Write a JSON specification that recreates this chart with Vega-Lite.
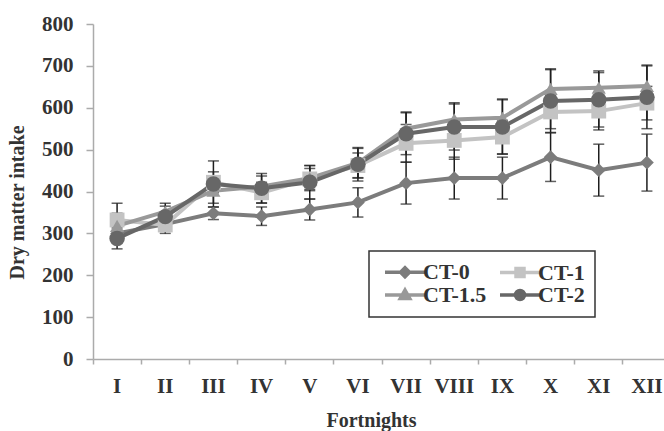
{
  "$schema": "https://vega.github.io/schema/vega-lite/v6.json",
  "autosize": "none",
  "padding": {"left": 93, "top": 24, "right": 0, "bottom": 72},
  "width": 578,
  "height": 335,
  "background": "white",
  "config": {
    "view": {"stroke": null},
    "font": "Liberation Serif",
    "axis": {
      "labelFont": "Liberation Serif", "labelFontWeight": "bold", "labelFontSize": 21, "labelColor": "#333333",
      "titleFont": "Liberation Serif", "titleFontWeight": "bold", "titleFontSize": 20, "titleColor": "#333333",
      "domainColor": "#ababab", "tickColor": "#ababab", "domainWidth": 1.5, "tickWidth": 1.5, "grid": false
    }
  },
  "data": {"values": [
    {"f":"I","s":"CT-0","v":300,"e":20},{"f":"II","s":"CT-0","v":322,"e":15},{"f":"III","s":"CT-0","v":348,"e":15},{"f":"IV","s":"CT-0","v":341,"e":22},{"f":"V","s":"CT-0","v":357,"e":25},{"f":"VI","s":"CT-0","v":374,"e":35},{"f":"VII","s":"CT-0","v":420,"e":50},{"f":"VIII","s":"CT-0","v":432,"e":50},{"f":"IX","s":"CT-0","v":432,"e":50},{"f":"X","s":"CT-0","v":482,"e":58},{"f":"XI","s":"CT-0","v":451,"e":62},{"f":"XII","s":"CT-0","v":469,"e":68},
    {"f":"I","s":"CT-1","v":332,"e":40},{"f":"II","s":"CT-1","v":320,"e":20},{"f":"III","s":"CT-1","v":422,"e":25},{"f":"IV","s":"CT-1","v":397,"e":25},{"f":"V","s":"CT-1","v":430,"e":25},{"f":"VI","s":"CT-1","v":462,"e":30},{"f":"VII","s":"CT-1","v":515,"e":45},{"f":"VIII","s":"CT-1","v":522,"e":45},{"f":"IX","s":"CT-1","v":530,"e":40},{"f":"X","s":"CT-1","v":590,"e":40},{"f":"XI","s":"CT-1","v":592,"e":45},{"f":"XII","s":"CT-1","v":611,"e":40},
    {"f":"I","s":"CT-1.5","v":318,"e":30},{"f":"II","s":"CT-1.5","v":352,"e":20},{"f":"III","s":"CT-1.5","v":402,"e":30},{"f":"IV","s":"CT-1.5","v":412,"e":25},{"f":"V","s":"CT-1.5","v":432,"e":30},{"f":"VI","s":"CT-1.5","v":468,"e":35},{"f":"VII","s":"CT-1.5","v":550,"e":40},{"f":"VIII","s":"CT-1.5","v":572,"e":40},{"f":"IX","s":"CT-1.5","v":576,"e":45},{"f":"X","s":"CT-1.5","v":645,"e":48},{"f":"XI","s":"CT-1.5","v":648,"e":40},{"f":"XII","s":"CT-1.5","v":652,"e":50},
    {"f":"I","s":"CT-2","v":288,"e":25},{"f":"II","s":"CT-2","v":340,"e":25},{"f":"III","s":"CT-2","v":418,"e":55},{"f":"IV","s":"CT-2","v":408,"e":35},{"f":"V","s":"CT-2","v":422,"e":40},{"f":"VI","s":"CT-2","v":465,"e":40},{"f":"VII","s":"CT-2","v":538,"e":50},{"f":"VIII","s":"CT-2","v":554,"e":55},{"f":"IX","s":"CT-2","v":554,"e":65},{"f":"X","s":"CT-2","v":616,"e":75},{"f":"XI","s":"CT-2","v":619,"e":65},{"f":"XII","s":"CT-2","v":625,"e":75}
  ]},
  "encoding": {
    "x": {
      "field": "f", "type": "ordinal",
      "sort": ["I","II","III","IV","V","VI","VII","VIII","IX","X","XI","XII"],
      "scale": {"type": "band", "paddingInner": 0, "paddingOuter": 0},
      "axis": {"title": "Fortnights", "labelAngle": 0, "bandPosition": 0, "tickSize": 5, "labelPadding": 11, "titlePadding": 14, "titleX": 278}
    },
    "y": {"field": "v", "type": "quantitative", "scale": {"domain": [0, 800]}, "title": "Dry matter intake",
          "axis": {"values": [0,100,200,300,400,500,600,700,800], "tickSize": 7, "labelPadding": 13, "titlePadding": 12, "titleX": -66, "titleY": 178}}
  },
  "layer": [
    {
      "mark": {"type": "errorbar", "ticks": true, "size": 11, "thickness": 1.5, "color": "#1e1e1e"},
      "encoding": {
        "yError": {"field": "e"},
        "detail": {"field": "s"}
      }
    },
    {
      "mark": {"type": "line", "strokeWidth": 4},
      "encoding": {
        "color": {
          "field": "s", "type": "nominal",
          "scale": {"domain": ["CT-0","CT-1","CT-1.5","CT-2"], "range": ["#7c7c7c","#c3c3c3","#999999","#676767"]},
          "legend": {
            "title": null, "orient": "none", "legendX": 276, "legendY": 227, "columns": 2, "direction": "horizontal",
            "padding": 10, "strokeColor": "#333333",
            "labelFont": "Liberation Serif", "labelFontWeight": "bold", "labelFontSize": 22, "labelColor": "#333333",
            "labelOffset": 7, "rowPadding": -3, "columnPadding": 6, "symbolSize": 100, "symbolOffset": 15,
            "encode": {
              "legend": {"update": {"strokeWidth": {"value": 1.5}}},
              "symbols": {
                "update": {
                  "shape": {"signal": "datum.value === 'CT-0' ? 'M-4,0H4M0,-0.9L0.9,0L0,0.9L-0.9,0Z' : datum.value === 'CT-1' ? 'M-4,0H4M-0.8,-0.8H0.8V0.8H-0.8Z' : datum.value === 'CT-1.5' ? 'M-4,0H4M0,-1L0.95,0.7H-0.95Z' : 'M-4,0H4M-0.9,0A0.9,0.9,0,1,0,0.9,0A0.9,0.9,0,1,0,-0.9,0Z'"},
                  "stroke": {"scale": "color", "field": "value"},
                  "fill": {"scale": "color", "field": "value"},
                  "strokeWidth": {"value": 3.5},
                  "opacity": {"value": 1}
                }
              }
            }
          }
        }
      }
    },
    {
      "transform": [{"filter": "datum.s === 'CT-0'"}],
      "mark": {"type": "point", "filled": true, "opacity": 1, "shape": "diamond", "size": 190},
      "encoding": {"color": {"field": "s", "type": "nominal", "legend": null}}
    },
    {
      "transform": [{"filter": "datum.s === 'CT-1'"}],
      "mark": {"type": "point", "filled": true, "opacity": 1, "shape": "square", "size": 220},
      "encoding": {"color": {"field": "s", "type": "nominal", "legend": null}}
    },
    {
      "transform": [{"filter": "datum.s === 'CT-1.5'"}],
      "mark": {"type": "point", "filled": true, "opacity": 1, "shape": "triangle-up", "size": 200},
      "encoding": {"color": {"field": "s", "type": "nominal", "legend": null}}
    },
    {
      "transform": [{"filter": "datum.s === 'CT-2'"}],
      "mark": {"type": "point", "filled": true, "opacity": 1, "shape": "circle", "size": 240},
      "encoding": {"color": {"field": "s", "type": "nominal", "legend": null}}
    }
  ]
}
